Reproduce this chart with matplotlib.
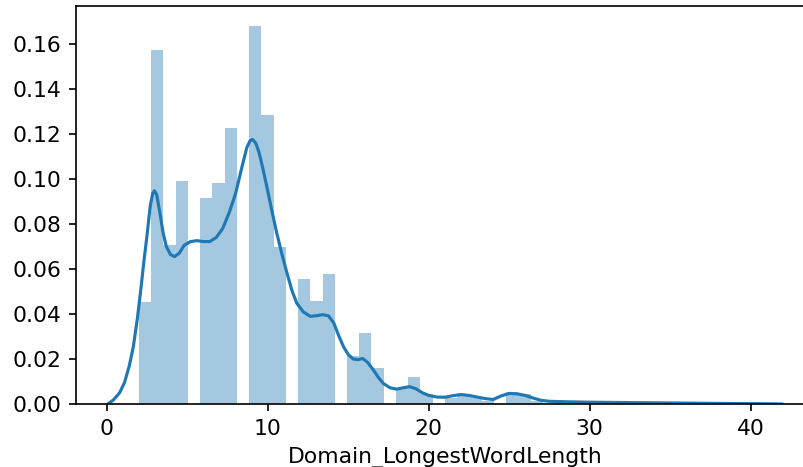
import numpy as np
import matplotlib
matplotlib.use("Agg")
import matplotlib.pyplot as plt

# longest word length in the domain and histogram density for each value
word_length = list(range(2, 41))
density = [0.0455, 0.1573, 0.0707, 0.0991, 0.0917, 0.0984, 0.1228, 0.1680,
           0.1284, 0.0700, 0.0554, 0.0458, 0.0578, 0.0215, 0.0314, 0.0159,
           0.0070, 0.0122, 0.0045, 0.0025, 0.0040, 0.0030, 0.0015, 0.0055,
           0.0045, 0.0015, 0.0008, 0.0006, 0.0005, 0.0004, 0.0004, 0.0003,
           0.0003, 0.0002, 0.0002, 0.0002, 0.0001, 0.0001, 0.0001]

# kde curve
kde_x = [0.07, 0.41, 0.8, 1.1, 1.4, 1.65, 1.9, 2.1, 2.3, 2.5, 2.7, 2.85, 2.96,
         3.1, 3.3, 3.5, 3.7, 3.95, 4.2, 4.5, 4.8, 5.2, 5.6, 6.0, 6.4, 6.8,
         7.2, 7.6, 8.0, 8.4, 8.7, 8.9, 9.05, 9.25, 9.45, 9.7, 9.94, 10.25,
         10.56, 10.9, 11.2, 11.5, 11.8, 12.2, 12.63, 13.0, 13.4, 13.77, 14.1,
         14.4, 14.7, 15.0, 15.3, 15.6, 15.9, 16.2, 16.56, 16.9, 17.2, 17.6,
         18.0, 18.4, 18.8, 19.2, 19.6, 20.0, 20.5, 21.0, 21.5, 22.0, 22.5,
         23.0, 23.5, 24.0, 24.5, 25.0, 25.5, 26.0, 26.5, 27.0, 27.5, 28.5,
         30.0, 33.0, 36.0, 39.0, 41.0, 41.93]
kde_y = [0.0, 0.0018, 0.0050, 0.0095, 0.0170, 0.0255, 0.0380, 0.0500, 0.0630,
         0.0750, 0.0880, 0.0935, 0.0948, 0.0930, 0.0850, 0.0760, 0.0700,
         0.0665, 0.0655, 0.0670, 0.0705, 0.0722, 0.0726, 0.0722, 0.0722,
         0.0740, 0.0780, 0.0850, 0.0935, 0.1055, 0.1140, 0.1170, 0.1176,
         0.1160, 0.1120, 0.1045, 0.0966, 0.0860, 0.0759, 0.0660, 0.0580,
         0.0505, 0.0448, 0.0410, 0.0390, 0.0392, 0.0397, 0.0392, 0.0360,
         0.0305, 0.0255, 0.0220, 0.0200, 0.0197, 0.0202, 0.0185, 0.0151,
         0.0115, 0.0090, 0.0072, 0.0066, 0.0072, 0.0077, 0.0068, 0.0050,
         0.0038, 0.0031, 0.0030, 0.0037, 0.0042, 0.0038, 0.0031, 0.0024,
         0.0020, 0.0036, 0.0047, 0.0045, 0.0038, 0.0026, 0.0016, 0.0012,
         0.0010, 0.0008, 0.0006, 0.0004, 0.0002, 0.0001, 0.0]

color = "#1f77b4"
dpi = 150
plt.rcParams["font.size"] = 10.5
fig = plt.figure(figsize=(803 / dpi, 467 / dpi), dpi=dpi)

# axes run past the right edge of the picture (it was cropped)
xmin, xmax = -1.93, 44.0
px_per_unit = 16.1
ax = fig.add_axes([75.7 / 803, 1 - 404 / 467,
                   (xmax - xmin) * px_per_unit / 803, (404 - 6) / 467])

bins = np.linspace(2, 40, 51)
ax.hist(word_length, bins=bins, weights=density, color=color, alpha=0.4)
ax.plot(kde_x, kde_y, color=color, lw=1.5, solid_joinstyle="round")

ax.set_xlim(xmin, xmax)
ax.set_ylim(0, 0.1769)
ax.set_xticks([0, 10, 20, 30, 40])
ax.set_yticks(np.arange(0, 0.17, 0.02))
ax.set_xlabel("Domain_LongestWordLength")

fig.savefig("out.png", dpi=dpi)
